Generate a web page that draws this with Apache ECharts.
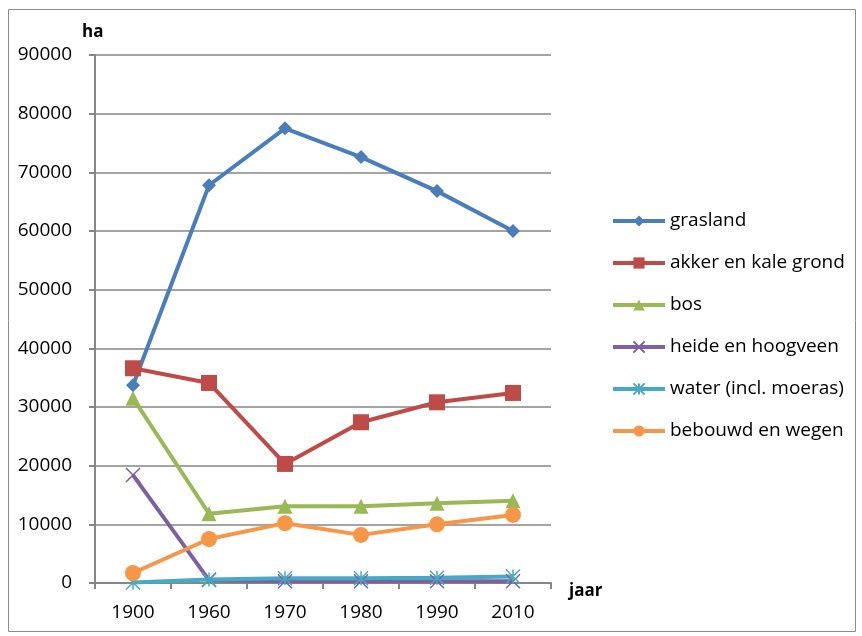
<!DOCTYPE html>
<html>
<head>
<meta charset="utf-8">
<script src="https://cdn.jsdelivr.net/npm/echarts@6/dist/echarts.min.js"></script>
<style>
  html, body { margin: 0; padding: 0; background: #fff; }
  #chart { width: 862px; height: 636px; }
</style>
</head>
<body>
<div id="chart"></div>
<script>
var years = ["1900", "1960", "1970", "1980", "1990", "2010"];
var grasland = [33700, 67800, 77500, 72600, 66800, 60000];
var akker = [36600, 34100, 20300, 27400, 30800, 32400];
var bos = [31500, 11800, 13100, 13100, 13600, 14000];
var heide = [18400, 500, 300, 300, 300, 300];
var water = [100, 600, 800, 800, 900, 1100];
var bebouwd = [1700, 7500, 10200, 8200, 10000, 11600];

var font = "'Open Sans', 'Liberation Sans', sans-serif";
var crossPath = "path://M0,0L10,10M10,0L0,10";
var starPath = "path://M0,0L10,10M10,0L0,10M5,0L5,10";

function line(name, data, color, symbol, size, stroke) {
  return {
    name: name,
    type: "line",
    data: data,
    symbol: symbol,
    symbolSize: size,
    showSymbol: true,
    lineStyle: { color: color, width: 4 },
    itemStyle: stroke
      ? { color: "rgba(0,0,0,0)", borderColor: color, borderWidth: 1.5 }
      : { color: color },
    emphasis: { disabled: true },
    animation: false
  };
}

var myChart = echarts.init(document.getElementById("chart"));
myChart.setOption({
  backgroundColor: "#fff",
  textStyle: { fontFamily: font },
  graphic: [
    {
      type: "rect",
      shape: { x: 8.5, y: 9.5, width: 847, height: 622 },
      style: { fill: "none", stroke: "#8c8c8c", lineWidth: 1 }
    },
    {
      type: "text",
      x: 82, y: 32,
      style: { text: "ha", font: "bold 17px " + font, fill: "#000", verticalAlign: "middle" }
    },
    {
      type: "text",
      x: 569, y: 591,
      style: { text: "jaar", font: "bold 17px " + font, fill: "#000", verticalAlign: "middle" }
    }
  ],
  legend: {
    orient: "vertical",
    left: 606,
    top: 206,
    itemWidth: 52,
    itemHeight: 14,
    itemGap: 22,
    lineStyle: { width: 4 },
    textStyle: { fontFamily: font, fontSize: 19, lineHeight: 20, color: "#000" },
    data: ["grasland", "akker en kale grond", "bos", "heide en hoogveen", "water (incl. moeras)", "bebouwd en wegen"]
  },
  grid: { left: 95, right: 311, top: 55, bottom: 53, containLabel: false },
  xAxis: {
    type: "category",
    data: years,
    boundaryGap: true,
    axisLine: { lineStyle: { color: "#868686", width: 2 } },
    axisTick: { show: true, length: 6, lineStyle: { color: "#868686", width: 2 } },
    axisLabel: { fontFamily: font, fontSize: 19, color: "#000", margin: 20 }
  },
  yAxis: {
    type: "value",
    min: 0,
    max: 90000,
    interval: 10000,
    axisLine: { show: true, lineStyle: { color: "#868686", width: 2 } },
    axisTick: { show: true, length: 6, lineStyle: { color: "#868686", width: 2 } },
    splitLine: { lineStyle: { color: "#868686", width: 1.5 } },
    axisLabel: {
      fontFamily: font, fontSize: 19, color: "#000", margin: 23,
      formatter: function (v) { return String(v); }
    }
  },
  series: [
    line("grasland", grasland, "#4a7ebb", "diamond", 14),
    line("akker en kale grond", akker, "#be4b48", "rect", 16),
    line("bos", bos, "#98b954", "triangle", 15),
    line("heide en hoogveen", heide, "#7d60a0", crossPath, 14, true),
    line("water (incl. moeras)", water, "#46aac5", starPath, 14, true),
    line("bebouwd en wegen", bebouwd, "#f79646", "circle", 16)
  ]
});
</script>
</body>
</html>
